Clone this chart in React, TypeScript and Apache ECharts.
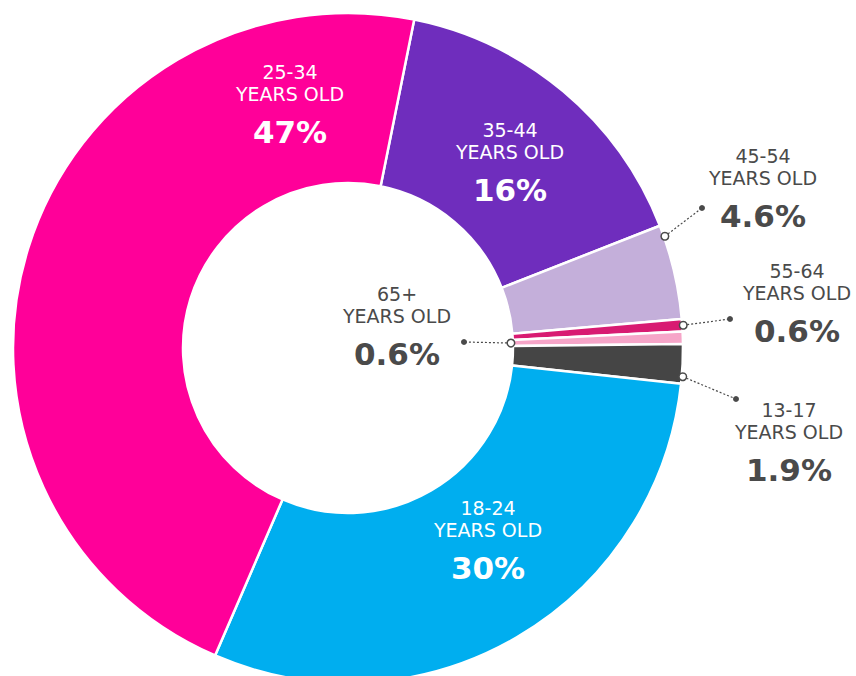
import React, { useEffect, useRef } from "react";
import * as echarts from "echarts";

const CATEGORIES = ["35-44", "45-54", "55-64", "65+", "13-17", "18-24", "25-34"];
const VALUES = [16, 4.6, 0.6, 0.6, 1.9, 30, 47];
const COLORS = ["#6F2DBD", "#C4AFDA", "#D81B72", "#F6A5C8", "#454545", "#00AEEF", "#FF0099"];

// layout (not data)
const CX = 348;
const CY = 348;
const R_IN = 165;
const R_OUT = 335;
const START_FROM_TOP = 11.4; // degrees clockwise from 12 o'clock
const LABEL_POS: Record<string, [number, number]> = {
  "35-44": [510, 119],
  "45-54": [763, 145],
  "55-64": [797, 260],
  "65+": [397, 283],
  "13-17": [789, 399],
  "18-24": [488, 497],
  "25-34": [290, 61],
};
const INSIDE = ["35-44", "18-24", "25-34"];
const LEADERS = [
  { cat: "45-54", frac: 0.12, inner: false, end: [702, 208] },
  { cat: "55-64", frac: 0.5, inner: false, end: [730, 319] },
  { cat: "65+", frac: 0.5, inner: true, end: [464, 342] },
  { cat: "13-17", frac: 0.82, inner: false, end: [736, 399] },
];

const FONT = "'DejaVu Sans', sans-serif";
const DARK = "#4a4a4a";

export default function App() {
  const ref = useRef<HTMLDivElement>(null);
  useEffect(() => {
    if (!ref.current) return;
    const chart = echarts.init(ref.current, undefined, { renderer: "svg" });
    const total = VALUES.reduce((a, b) => a + b, 0);
    const starts: number[] = [];
    let acc = START_FROM_TOP;
    VALUES.forEach((v) => {
      starts.push(acc);
      acc += (v / total) * 360;
    });
    const graphics: any[] = [];
    LEADERS.forEach((l) => {
      const i = CATEGORIES.indexOf(l.cat);
      const ang = starts[i] + (l.frac * VALUES[i] / total) * 360;
      const rad = (ang * Math.PI) / 180;
      const r = l.inner ? R_IN - 2 : R_OUT + 1;
      const ax = CX + r * Math.sin(rad);
      const ay = CY - r * Math.cos(rad);
      graphics.push({
        type: "line",
        z: 100,
        shape: { x1: ax, y1: ay, x2: l.end[0], y2: l.end[1] },
        style: { stroke: DARK, lineWidth: 1.2, lineDash: [2, 2] },
      });
      graphics.push({
        type: "circle",
        z: 101,
        shape: { cx: l.end[0], cy: l.end[1], r: 3 },
        style: { fill: DARK },
      });
      graphics.push({
        type: "circle",
        z: 101,
        shape: { cx: ax, cy: ay, r: 3.8 },
        style: { fill: "#fff", stroke: DARK, lineWidth: 1.5 },
      });
    });

    chart.setOption({
      animation: false,
      backgroundColor: "#fff",
      graphic: graphics,
      series: [
        {
          type: "pie",
          center: [CX, CY],
          radius: [R_IN, R_OUT],
          startAngle: 90 - START_FROM_TOP,
          clockwise: true,
          avoidLabelOverlap: false,
          itemStyle: { borderColor: "#fff", borderWidth: 2.5 },
          emphasis: { disabled: true },
          labelLine: { show: false },
          data: CATEGORIES.map((c, i) => {
            const inside = INSIDE.includes(c);
            const col = inside ? "#fff" : DARK;
            return {
              name: c,
              value: VALUES[i],
              itemStyle: { color: COLORS[i] },
              label: {
                show: true,
                position: "inside",
                formatter: `{a|${c}}\n{a|YEARS OLD}\n{b|${VALUES[i]}%}`,
                rich: {
                  a: { fontFamily: FONT, fontSize: 19, lineHeight: 22, color: col, align: "center" },
                  b: { fontFamily: FONT, fontSize: 31, fontWeight: "bold", lineHeight: 54, color: col, align: "center" },
                },
              },
            };
          }),
          labelLayout: (p: any) => {
            const pos = LABEL_POS[CATEGORIES[p.dataIndex]];
            return { x: pos[0], y: pos[1], align: "center", verticalAlign: "top" };
          },
        },
      ],
    });
    return () => chart.dispose();
  }, []);
  return (
    <div
      ref={ref}
      style={{ position: "fixed", left: 0, top: 0, width: 856, height: 676 }}
    />
  );
}
